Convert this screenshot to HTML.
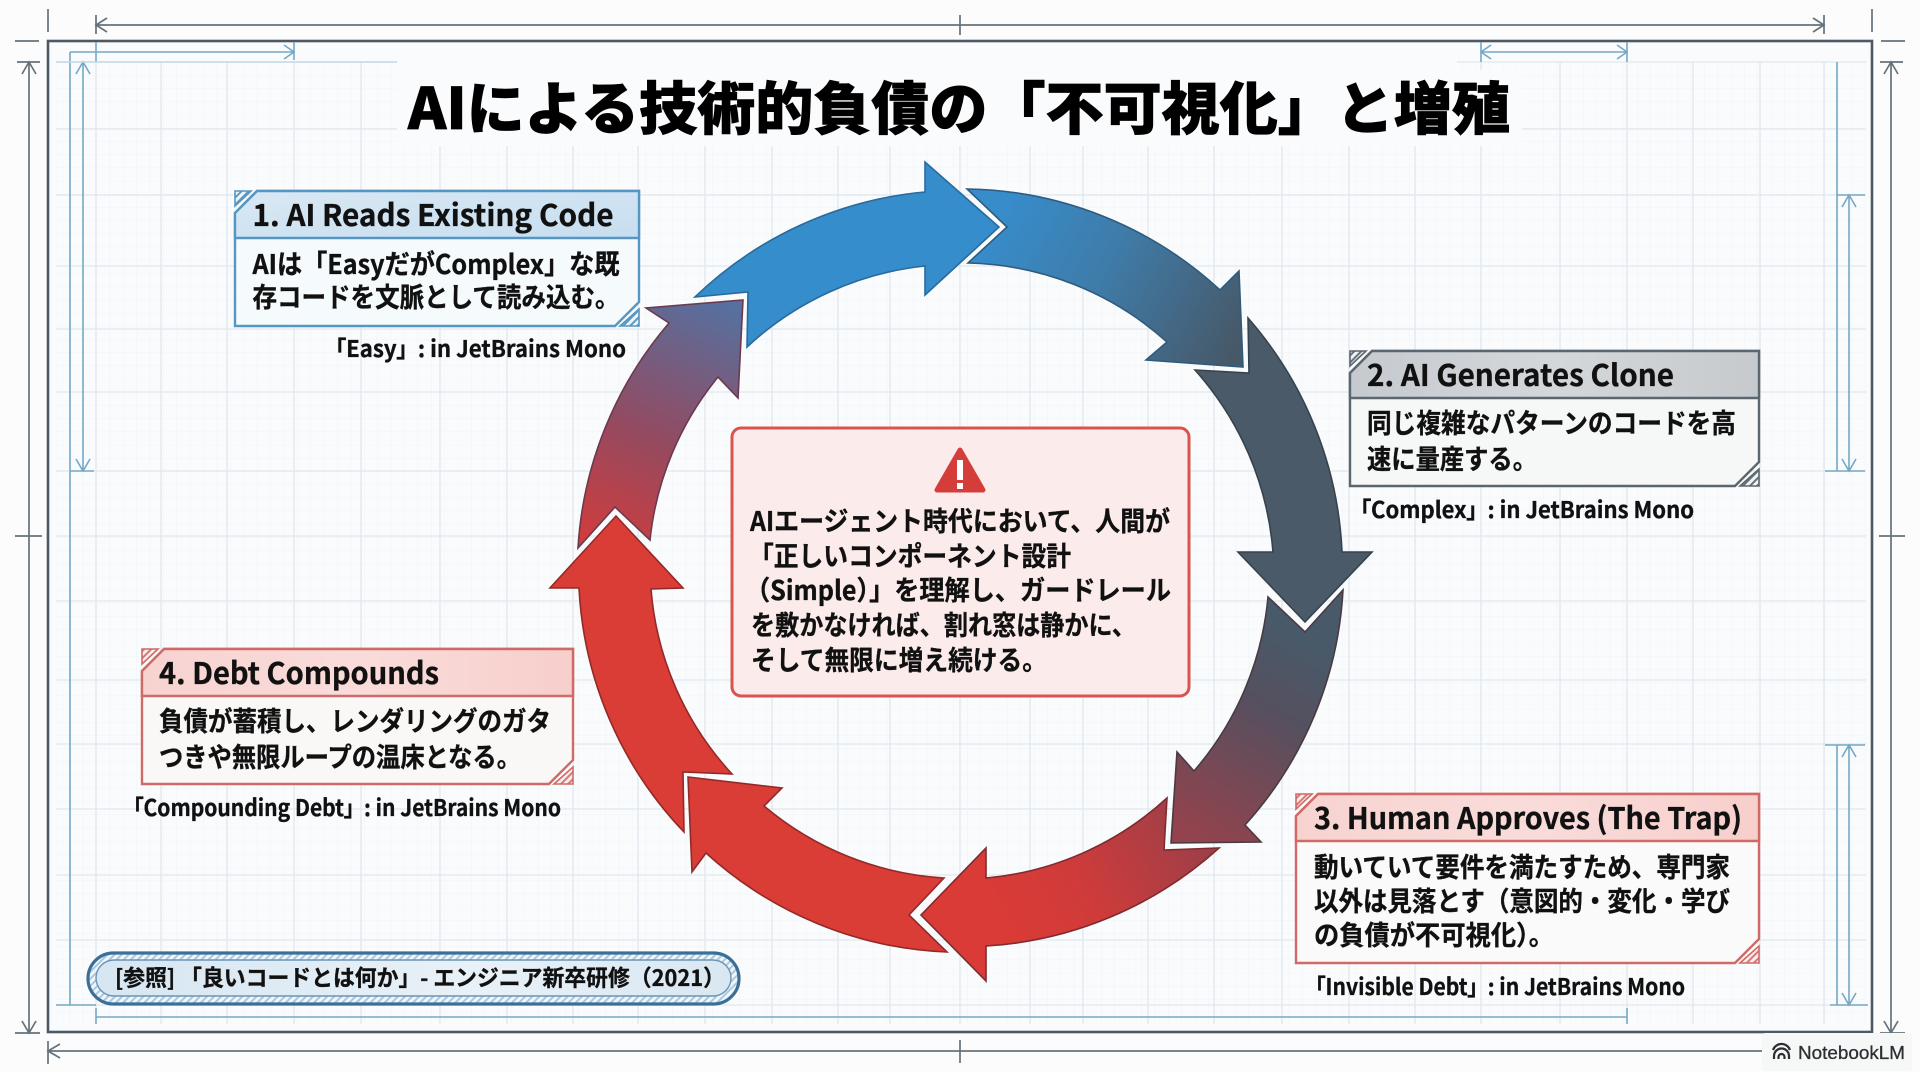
<!DOCTYPE html>
<html lang="ja">
<head>
<meta charset="utf-8">
<title>AIによる技術的負債の「不可視化」と増殖</title>
<style>
html,body{margin:0;padding:0;background:#fbfcfb;width:1920px;height:1072px;overflow:hidden}
svg{display:block}
text{font-family:"Noto Sans CJK JP","Liberation Sans",sans-serif;font-weight:700;fill:#111;stroke:#111;stroke-width:.35}
.cap{font-size:23px;font-feature-settings:"palt"}
.bt{font-size:27px}
.ht{font-size:30px}
</style>
</head>
<body>
<svg width="1920" height="1072" viewBox="0 0 1920 1072" xmlns="http://www.w3.org/2000/svg">
<defs>
<pattern id="minor" width="13.4" height="13.2" patternUnits="userSpaceOnUse" x="96" y="62">
<path d="M0 0V13.2M0 0H13.4" fill="none" stroke="#f0f4f7" stroke-width="1"/>
</pattern>
<pattern id="hB" width="5" height="5" patternUnits="userSpaceOnUse" patternTransform="rotate(-45)"><rect width="5" height="5" fill="#eef5fa"/><rect width="5" height="2" fill="#5b9cc4"/></pattern>
<pattern id="hG" width="5" height="5" patternUnits="userSpaceOnUse" patternTransform="rotate(-45)"><rect width="5" height="5" fill="#f2f2f2"/><rect width="5" height="2" fill="#68727b"/></pattern>
<pattern id="hR" width="5" height="5" patternUnits="userSpaceOnUse" patternTransform="rotate(-45)"><rect width="5" height="5" fill="#fbeeee"/><rect width="5" height="2" fill="#d57a76"/></pattern>
<pattern id="hP" width="5" height="5" patternUnits="userSpaceOnUse" patternTransform="rotate(-45)"><rect width="5" height="5" fill="#f0f6fb"/><rect width="5" height="2" fill="#a9c9e0"/></pattern>
<linearGradient id="hd1" x1="0" y1="0" x2="1" y2="1"><stop offset="0" stop-color="#d9e8f3"/><stop offset="1" stop-color="#c7def0"/></linearGradient>
<linearGradient id="hd2" x1="0" y1="0" x2="1" y2="0"><stop offset="0" stop-color="#c5cacf"/><stop offset=".5" stop-color="#d4d7da"/><stop offset="1" stop-color="#c6cacd"/></linearGradient>
<linearGradient id="hd3" x1="0" y1="0" x2="1" y2="0"><stop offset="0" stop-color="#f7d3d0"/><stop offset=".5" stop-color="#f9dcda"/><stop offset="1" stop-color="#f7cfcc"/></linearGradient>
<linearGradient id="g2" gradientUnits="userSpaceOnUse" x1="1000" y1="215" x2="1235" y2="345"><stop offset="0" stop-color="#378cca"/><stop offset=".45" stop-color="#3f7ba8"/><stop offset="1" stop-color="#475969"/></linearGradient>
<linearGradient id="g4" gradientUnits="userSpaceOnUse" x1="1310" y1="640" x2="1195" y2="835"><stop offset="0" stop-color="#485a69"/><stop offset=".35" stop-color="#55505f"/><stop offset="1" stop-color="#92434d"/></linearGradient>
<linearGradient id="g5" gradientUnits="userSpaceOnUse" x1="1190" y1="810" x2="1000" y2="920"><stop offset="0" stop-color="#9c3f48"/><stop offset=".6" stop-color="#cf3b3b"/><stop offset="1" stop-color="#da3b36"/></linearGradient>
<linearGradient id="g8" gradientUnits="userSpaceOnUse" x1="600" y1="550" x2="715" y2="300"><stop offset="0" stop-color="#d13c3c"/><stop offset=".45" stop-color="#944a60"/><stop offset="1" stop-color="#56709f"/></linearGradient>
<linearGradient id="pill" x1="0" y1="0" x2="1" y2="0"><stop offset="0" stop-color="#d7e6f2"/><stop offset=".6" stop-color="#e8f1f7"/><stop offset="1" stop-color="#d9e7f2"/></linearGradient>
</defs>

<rect width="1920" height="1072" fill="#fbfcfb"/>
<rect x="48" y="41" width="1824" height="991" fill="#fafbfc"/>

<!-- grid -->
<rect x="56" y="62" width="1810" height="962" fill="url(#minor)"/>
<path fill="none" stroke="#e0e8ef" stroke-width="1.3" d="M96 62V1024M161 62V1024M227 62V1024M294 62V1024M361 62V1024M440 62V1024M507 62V1024M573 62V1024M638 62V1024M705 62V1024M772 62V1024M838 62V1024M890 62V1024M960 62V1024M1030 62V1024M1083 62V1024M1148 62V1024M1214 62V1024M1282 62V1024M1349 62V1024M1415 62V1024M1481 62V1024M1560 62V1024M1627 62V1024M1693 62V1024M1760 62V1024M1824 62V1024
M56 62H1866M56 129H1866M56 195H1866M56 266H1866M56 329H1866M56 392H1866M56 471H1866M56 536H1866M56 601H1866M56 680H1866M56 744H1866M56 809H1866M56 875H1866M56 940H1866M56 1005H1866"/>
<rect x="397" y="54" width="1060" height="92" fill="#fafbfc"/>
<rect x="1457" y="70" width="65" height="76" fill="#fafbfc"/>

<!-- frame -->
<rect x="48" y="41" width="1824" height="991" fill="none" stroke="#4d5a65" stroke-width="2.6"/>

<!-- outer dims -->
<g fill="none" stroke="#66727b" stroke-width="1.7">
<path d="M96 25H1824M96 15V34M960 15V35M1824 15V34M107 18L96 25L107 32M1813 18L1824 25L1813 32"/>
<path d="M48 9V32M15 41H39M1872 9V32M1881 41H1905"/>
<path d="M29 62V1033M17 62H40M15 1033H40M15 536H42M22 74L29 62L36 74M22 1021L29 1033L36 1021"/>
<path d="M1891 62V1033M1880 62H1903M1880 1033H1905M1879 536H1905M1884 74L1891 62L1898 74M1884 1021L1891 1033L1898 1021"/>
<path d="M48 1051H1762M48 1041V1064M960 1040V1063M60 1044L48 1051L60 1058"/>
</g>
<!-- blue dims -->
<g fill="none" stroke="#76a8c6" stroke-width="1.6">
<path d="M70 52H294M294 42V60M284 45L294 52L284 59"/>
<path d="M70 52V1005M56 1005H96"/>
<path d="M83 62V471M70 471H94M76 74L83 62L90 74M76 459L83 471L90 459"/>
<path d="M96 42V62"/>
<path stroke="#c4d9e6" d="M56 62H397"/>
<path d="M1481 52H1627M1481 42V62M1627 42V62M1491 45L1481 52L1491 59M1617 45L1627 52L1617 59"/>
<path d="M1837 62V471M1837 745V1005M1830 1005H1868"/>
<path d="M1849 195V471M1837 195H1865M1825 471H1865M1842 207L1849 195L1856 207M1842 459L1849 471L1856 459"/>
<path d="M1849 745V1005M1825 745H1865M1842 757L1849 745L1856 757M1842 993L1849 1005L1856 993"/>
<path d="M96 1017H1627M96 1008V1024M1627 1008V1024"/>
</g>

<!-- title -->
<text x="408" y="129" font-size="57" textLength="1102" lengthAdjust="spacingAndGlyphs" style="font-weight:900;fill:#000;stroke:#000;stroke-width:.8">AIによる技術的負債の「不可視化」と増殖</text>

<!-- ring arrows -->
<g stroke-width="1.6" stroke-linejoin="miter">
<path fill="#358dcc" stroke="#2a6a9c" d="M695 297A381 381 0 0 1 925 192L925 162L999 227L925 295L925 266A308 308 0 0 0 747 347L748 292Z"/>
<path fill="url(#g2)" stroke="#2f5b7c" d="M967 189A381 381 0 0 1 1220 290L1239 271L1243 367L1146 360L1167 342A308 308 0 0 0 968 263L1007 227Z"/>
<path fill="#4a5a68" stroke="#36434e" d="M1248 318A381 381 0 0 1 1342 552L1372 552L1305 622L1238 552L1273 552A310 310 0 0 0 1195 370L1249 373Z"/>
<path fill="url(#g4)" stroke="#4a3a44" d="M1343 590A381 381 0 0 1 1245 825L1261 842L1171 843L1177 752L1194 771A308 308 0 0 0 1268 597L1305 632Z"/>
<path fill="url(#g5)" stroke="#7e2c30" d="M1219 848A381 381 0 0 1 986 946L986 981L921 915L986 848L986 878A308 308 0 0 0 1167 798L1164 850Z"/>
<path fill="#da3c36" stroke="#932a28" d="M947 952A381 381 0 0 1 706 853L692 872L688 777L782 788L764 806A308 308 0 0 0 944 878L909 915Z"/>
<path fill="#da3c36" stroke="#932a28" d="M684 832A381 381 0 0 1 579 588L550 588L616 516L683 588L651 589A308 308 0 0 0 732 774L683 772Z"/>
<path fill="url(#g8)" stroke="#6b3a4e" d="M578 548A381 381 0 0 1 669 323L646 308L743 300L738 398L718 377A308 308 0 0 0 650 540L615 507Z"/>
</g>

<!-- center box -->
<rect x="732" y="428" width="457" height="268" rx="9" fill="#fbeceb" stroke="#d9534f" stroke-width="3"/>
<path d="M960 450L983 490H937Z" fill="#d43d3a" stroke="#d43d3a" stroke-width="5" stroke-linejoin="round"/>
<rect x="957" y="460" width="6" height="20" fill="#fff"/>
<rect x="957" y="483" width="6" height="6" fill="#fff"/>
<text class="bt" x="750" y="531" textLength="420" lengthAdjust="spacingAndGlyphs">AIエージェント時代において、人間が</text>
<text class="bt" x="749" y="566" textLength="322" lengthAdjust="spacingAndGlyphs">「正しいコンポーネント設計</text>
<text class="bt" x="745" y="600" textLength="426" lengthAdjust="spacingAndGlyphs">（Simple）」を理解し、ガードレール</text>
<text class="bt" x="751" y="635" textLength="385" lengthAdjust="spacingAndGlyphs">を敷かなければ、割れ窓は静かに、</text>
<text class="bt" x="751" y="670" textLength="296" lengthAdjust="spacingAndGlyphs">そして無限に増え続ける。</text>

<!-- box 1 -->
<path d="M257 191H639V302L615 326H235V213Z" fill="#f5fafc" stroke="#5597c2" stroke-width="2.4"/>
<path d="M257 191H639V238H235V213Z" fill="url(#hd1)" stroke="#5597c2" stroke-width="2.4"/>
<path d="M235 191H251L235 206Z" fill="url(#hB)" stroke="#5597c2" stroke-width="1.6"/>
<path d="M639 309V326H620Z" fill="url(#hB)" stroke="#5597c2" stroke-width="1.6"/>
<text class="ht" x="252.500" y="226" textLength="361" lengthAdjust="spacingAndGlyphs">1. AI Reads Existing Code</text>
<text class="bt" x="252.500" y="274" textLength="367" lengthAdjust="spacingAndGlyphs">AIは「EasyだがComplex」な既</text>
<text class="bt" x="252.500" y="307" textLength="367" lengthAdjust="spacingAndGlyphs">存コードを文脈として読み込む。</text>
<text class="cap" x="335" y="357" textLength="291" lengthAdjust="spacingAndGlyphs">「Easy」&#160;&#160;:&#160;in JetBrains Mono</text>

<!-- box 2 -->
<path d="M1372 351H1759V462L1735 486H1350V373Z" fill="#f6f7f7" stroke="#5c666f" stroke-width="2.4"/>
<path d="M1372 351H1759V398H1350V373Z" fill="url(#hd2)" stroke="#5c666f" stroke-width="2.4"/>
<path d="M1350 351H1366L1350 366Z" fill="url(#hG)" stroke="#5c666f" stroke-width="1.6"/>
<path d="M1759 469V486H1740Z" fill="url(#hG)" stroke="#5c666f" stroke-width="1.6"/>
<text class="ht" x="1367" y="386" textLength="307" lengthAdjust="spacingAndGlyphs">2. AI Generates Clone</text>
<text class="bt" x="1367" y="433" textLength="369" lengthAdjust="spacingAndGlyphs">同じ複雑なパターンのコードを高</text>
<text class="bt" x="1367" y="469" textLength="170" lengthAdjust="spacingAndGlyphs">速に量産する。</text>
<text class="cap" x="1360" y="518" textLength="334" lengthAdjust="spacingAndGlyphs">「Complex」&#160;&#160;:&#160;in JetBrains Mono</text>

<!-- box 3 -->
<path d="M1318 794H1759V939L1735 963H1296V816Z" fill="#fbfafa" stroke="#cf6a66" stroke-width="2.4"/>
<path d="M1318 794H1759V841H1296V816Z" fill="url(#hd3)" stroke="#cf6a66" stroke-width="2.4"/>
<path d="M1296 794H1312L1296 809Z" fill="url(#hR)" stroke="#cf6a66" stroke-width="1.6"/>
<path d="M1759 946V963H1740Z" fill="url(#hR)" stroke="#cf6a66" stroke-width="1.6"/>
<text class="ht" x="1314" y="829" textLength="428" lengthAdjust="spacingAndGlyphs">3. Human Approves (The Trap)</text>
<text class="bt" x="1314" y="877" textLength="416" lengthAdjust="spacingAndGlyphs">動いていて要件を満たすため、専門家</text>
<text class="bt" x="1314" y="911" textLength="416" lengthAdjust="spacingAndGlyphs">以外は見落とす（意図的・変化・学び</text>
<text class="bt" x="1314" y="945" textLength="240" lengthAdjust="spacingAndGlyphs">の負債が不可視化）。</text>
<text class="cap" x="1315" y="995" textLength="370" lengthAdjust="spacingAndGlyphs">「Invisible Debt」&#160;&#160;:&#160;in JetBrains Mono</text>

<!-- box 4 -->
<path d="M164 649H573V760L549 784H142V671Z" fill="#f9f8f7" stroke="#cf6a66" stroke-width="2.4"/>
<path d="M164 649H573V696H142V671Z" fill="url(#hd3)" stroke="#cf6a66" stroke-width="2.4"/>
<path d="M142 649H158L142 664Z" fill="url(#hR)" stroke="#cf6a66" stroke-width="1.6"/>
<path d="M573 767V784H554Z" fill="url(#hR)" stroke="#cf6a66" stroke-width="1.6"/>
<text class="ht" x="159" y="684" textLength="280" lengthAdjust="spacingAndGlyphs">4. Debt Compounds</text>
<text class="bt" x="159" y="731" textLength="392" lengthAdjust="spacingAndGlyphs">負債が蓄積し、レンダリングのガタ</text>
<text class="bt" x="159" y="767" textLength="362" lengthAdjust="spacingAndGlyphs">つきや無限ループの温床となる。</text>
<text class="cap" x="133" y="816" textLength="428" lengthAdjust="spacingAndGlyphs">「Compounding Debt」&#160;&#160;:&#160;in JetBrains Mono</text>

<!-- reference pill -->
<rect x="88" y="953" width="651" height="51" rx="25.5" fill="url(#hP)" stroke="#3c6f96" stroke-width="3.2"/>
<rect x="96" y="960" width="635" height="36" rx="18" fill="url(#pill)" stroke="#6c94b3" stroke-width="1.4"/>
<text x="115" y="986" font-size="22.5" textLength="610" lengthAdjust="spacingAndGlyphs">[参照] 「良いコードとは何か」- エンジニア新卒研修（2021）</text>

<!-- NotebookLM badge -->
<rect x="1762" y="1033" width="150" height="38" rx="3" fill="#f6f7f7"/>
<g fill="none" stroke="#2b2f33" stroke-width="2.2">
<path d="M1774 1059V1056A7.500 7.500 0 0 1 1789 1056V1059"/>
<path d="M1778.500 1059V1057A3 3 0 0 1 1784.500 1057V1059"/>
<path d="M1773 1050A9 9 0 0 1 1790 1050"/>
</g>
<text x="1798" y="1059" font-size="18.500" textLength="107" lengthAdjust="spacingAndGlyphs" style="font-family:'Liberation Sans',sans-serif;font-weight:400;fill:#2b2f33;stroke:#2b2f33;stroke-width:.3">NotebookLM</text>
</svg>
</body>
</html>
